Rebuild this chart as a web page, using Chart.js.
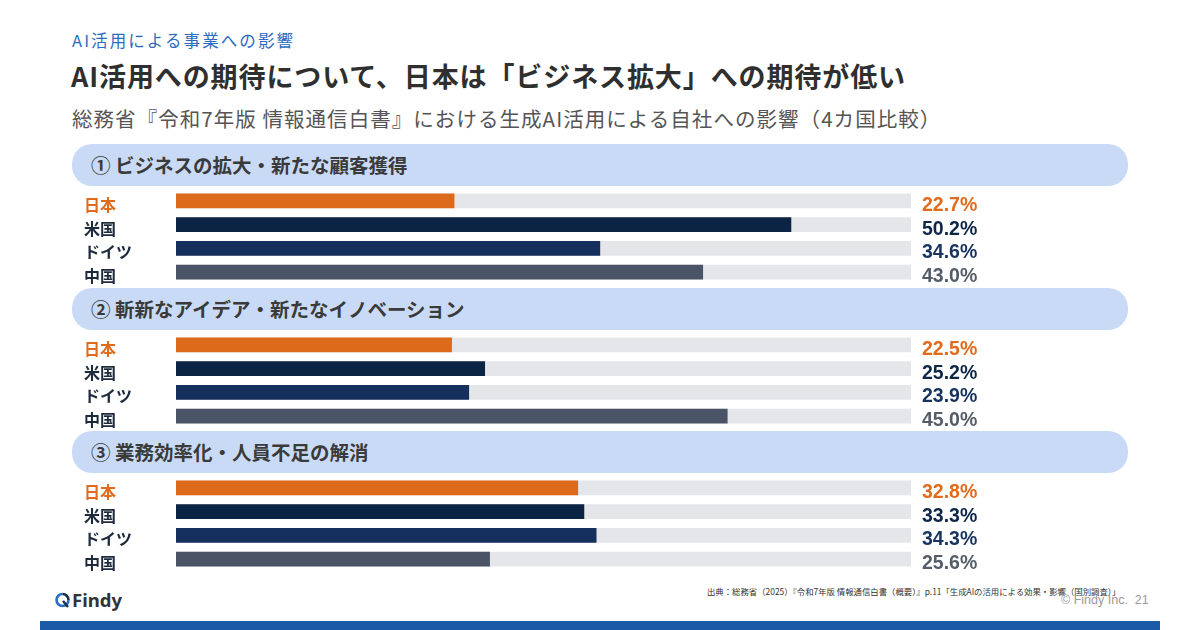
<!DOCTYPE html>
<html lang="ja">
<head>
<meta charset="utf-8">
<script src="https://cdn.jsdelivr.net/npm/chart.js@4/dist/chart.umd.min.js"></script>
<style>
  html, body { margin:0; padding:0; background:#fff; }
  body { width:1200px; height:630px; position:relative; overflow:hidden; font-family:"Noto Sans CJK JP","Noto Sans",sans-serif; }
  .abs { position:absolute; white-space:nowrap; }
  .kicker { left:72px; top:28px; font-size:16.5px; letter-spacing:2.1px; color:#2b6cc0; line-height:24px; }
  .title { left:71px; top:57px; font-size:27px; letter-spacing:0.9px; font-weight:700; color:#2f2f2f; line-height:38px; }
  .subtitle { left:72px; top:103px; font-size:20.5px; letter-spacing:1.05px; color:#555; line-height:30px; }
  .band { position:absolute; left:72px; width:1056px; height:42px; background:#c9daf6; border-radius:20px; }
  .band span { position:absolute; left:19px; top:0; line-height:42px; font-size:19.5px; font-weight:700; color:#3a3a3a; }
  .chartbox { position:absolute; left:0; width:1200px; height:95px; }
  .chartbox canvas { display:block; }
  .source { left:707px; top:585px; font-size:8.4px; color:#333; line-height:12px; }
  .copy { left:1061px; top:591px; font-size:12.5px; color:#9a9a9a; line-height:18px; font-family:"Liberation Sans",Arial,sans-serif; }
  .logo { left:55px; top:589px; height:22px; }
  .logo svg { position:absolute; left:0; top:3px; }
  .logo span { position:absolute; left:17px; top:-1px; font-size:18.5px; font-weight:700; color:#333; line-height:24px; font-family:"Noto Sans",sans-serif; }
  .footerbar { position:absolute; left:40px; top:621px; width:1120px; height:9px; background:#1b5aa6; }
</style>
</head>
<body>
<div class="abs kicker">AI活用による事業への影響</div>
<div class="abs title">AI活用への期待について、日本は「ビジネス拡大」への期待が低い</div>
<div class="abs subtitle">総務省『令和7年版 情報通信白書』における生成AI活用による自社への影響（4カ国比較）</div>

<div class="band" style="top:144px"><span id="h0"></span></div>
<div class="chartbox" style="top:189px"><canvas id="c0" style="width:1200px;height:95px"></canvas></div>
<div class="band" style="top:288px"><span id="h1"></span></div>
<div class="chartbox" style="top:332.5px"><canvas id="c1" style="width:1200px;height:95px"></canvas></div>
<div class="band" style="top:431px"><span id="h2"></span></div>
<div class="chartbox" style="top:476px"><canvas id="c2" style="width:1200px;height:95px"></canvas></div>

<div class="abs logo">
  <svg width="15" height="16" viewBox="0 0 15 16">
    <path d="M7.5 2 A6 6 0 1 0 13.5 8" fill="none" stroke="#2a6fc4" stroke-width="2.6"/>
    <path d="M13.5 8 A6 6 0 0 0 7.5 2" fill="none" stroke="#1c2f4a" stroke-width="2.6"/>
    <path d="M8 9 L13 15" stroke="#1c2f4a" stroke-width="2.4"/>
  </svg>
  <span>Findy</span>
</div>
<div class="abs source">出典：総務省（2025）『令和7年版 情報通信白書（概要）』p.11「生成AIの活用による効果・影響（国別調査）」</div>
<div class="abs copy">© Findy Inc.&nbsp;&nbsp;21</div>
<div class="footerbar"></div>

<script>
const countries = ['日本', '米国', 'ドイツ', '中国'];
const sectionTitles = [
  '① ビジネスの拡大・新たな顧客獲得',
  '② 斬新なアイデア・新たなイノベーション',
  '③ 業務効率化・人員不足の解消'
];
const businessValues = [22.7, 50.2, 34.6, 43.0];
const innovationValues = [22.5, 25.2, 23.9, 45.0];
const efficiencyValues = [32.8, 33.3, 34.3, 25.6];
const axisMax = 60;
const trackValues = [60, 60, 60, 60];

const barColors = ['#dd6a1a', '#0c2443', '#15305c', '#4a5466'];
const labelColors = ['#e06b1c', '#1d2a3c', '#1d2a3c', '#1d2a3c'];
const valueColors = ['#e06b1c', '#0e2647', '#17335f', '#555d69'];

const sectionData = [businessValues, innovationValues, efficiencyValues];

const valueLabelPlugin = {
  id: 'valueLabels',
  afterDatasetsDraw(chart) {
    const meta = chart.getDatasetMeta(0);
    const data = chart.data.datasets[0].data;
    const ctx = chart.ctx;
    ctx.save();
    ctx.font = 'bold 19.5px "Liberation Sans", Arial, sans-serif';
    ctx.textBaseline = 'middle';
    ctx.textAlign = 'left';
    meta.data.forEach((bar, i) => {
      ctx.fillStyle = valueColors[i];
      ctx.fillText(data[i].toFixed(1) + '%', chart.chartArea.right + 11, bar.y + 4.5);
    });
    ctx.restore();
  }
};

sectionData.forEach((vals, s) => {
  document.getElementById('h' + s).textContent = sectionTitles[s];
  new Chart(document.getElementById('c' + s), {
    type: 'bar',
    data: {
      labels: countries,
      datasets: [
        { data: vals, backgroundColor: barColors, barThickness: 14, borderWidth: 0, grouped: false, order: 0 },
        { data: trackValues, backgroundColor: '#e5e6ea', barThickness: 14, borderWidth: 0, grouped: false, order: 1 }
      ]
    },
    options: {
      indexAxis: 'y',
      responsive: false,
      maintainAspectRatio: false,
      animation: false,
      layout: { padding: { left: 84, right: 289, top: 0, bottom: 0 } },
      plugins: { legend: { display: false }, tooltip: { enabled: false } },
      scales: {
        x: { display: false, min: 0, max: axisMax },
        y: {
          grid: { display: false },
          border: { display: false },
          afterFit(scale) { scale.width = 92; scale.paddingTop = 0; scale.paddingBottom = 0; },
          ticks: {
            crossAlign: 'far',
            padding: 0,
            labelOffset: 4,
            color: (c) => labelColors[c.index],
            font: { family: '"Noto Sans CJK JP", sans-serif', size: 16, weight: 'bold' }
          }
        }
      }
    },
    plugins: [valueLabelPlugin]
  });
});
</script>
</body>
</html>
